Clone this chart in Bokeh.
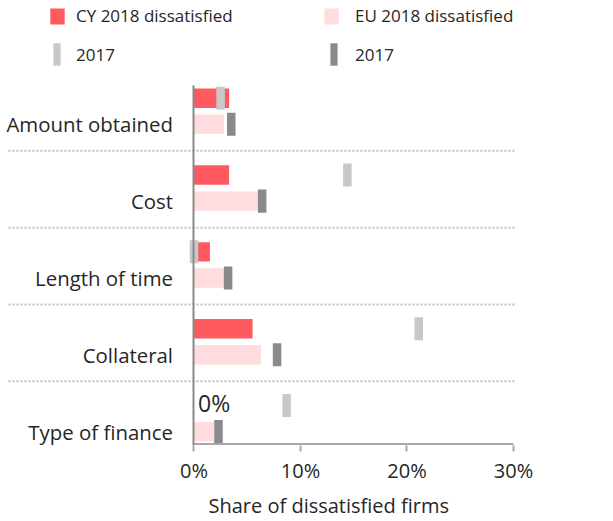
import numpy as np
from bokeh.plotting import figure
from bokeh.models import (Range1d, FixedTicker, PrintfTickFormatter, Legend,
                          LegendItem, Title)
from bokeh.core.properties import value
from bokeh.embed import file_html
from bokeh.resources import INLINE

# ---- data ----
categories = ["Amount obtained", "Cost", "Length of time", "Collateral", "Type of finance"]
cy_2018 = [3.3, 3.3, 1.5, 5.5, 0.0]
cy_2017 = [2.5, 14.4, 0.0, 21.1, 8.7]
eu_2018 = [2.8, 6.0, 2.8, 6.3, 1.9]
eu_2017 = [3.5, 6.4, 3.2, 7.8, 2.3]
x_ticks = [0, 10, 20, 30]

# ---- styling ----
RED = "#ff5a5f"
PINK = "#ffdcdd"
LIGHT = "#c8c8c8"
DARK = "#898a8d"
TEXT = "#262626"
FONT = "Open Sans"

X0, X1 = -18.169, 39.39
Y_BOTTOM, Y_TOP = 4.3506, -1.4416

pos = np.arange(len(categories), dtype=float)
cy_y = pos - 0.17
eu_y = pos + 0.17
sep_y = pos[:-1] + 0.515

p = figure(width=613, height=521,
           x_range=Range1d(X0, X1), y_range=Range1d(Y_BOTTOM, Y_TOP),
           output_backend="svg", toolbar_location=None,
           min_border_left=0, min_border_right=0, min_border_top=0, min_border_bottom=75)
p.outline_line_color = None
p.xgrid.visible = False
p.ygrid.visible = False
p.background_fill_color = "white"

# separators (dotted)
p.segment(x0=-17.42, x1=30.28, y0=sep_y, y1=sep_y, line_color="#bdbdbd",
          line_width=2, line_dash="2 2")

# bars
r_cy = p.hbar(y=cy_y, left=0, right=cy_2018, height=0.253, fill_color=RED, line_color=None)
r_eu = p.hbar(y=eu_y, left=0, right=eu_2018, height=0.253, fill_color=PINK, line_color=None)
# 2017 markers
r_cy17 = p.rect(x=cy_2017, y=cy_y, width=0.8, height=0.3, fill_color=LIGHT, line_color=None)
r_eu17 = p.rect(x=eu_2017, y=eu_y, width=0.8, height=0.3, fill_color=DARK, line_color=None)

# zero labels
zero_idx = [i for i, v in enumerate(cy_2018) if v == 0]
p.text(x=[cy_2018[i] for i in zero_idx], y=[cy_y[i] for i in zero_idx],
       text=["0%"] * len(zero_idx), x_offset=4, y_offset=-3, text_align="left",
       text_baseline="middle", text_font=value(FONT), text_font_size="23px", text_color=TEXT)

# x axis baseline
p.segment(x0=[x_ticks[0]], x1=[x_ticks[-1]], y0=[4.331], y1=[4.331], line_color="#a9a9a9", line_width=2)

# y axis at x=0
ya = p.yaxis[0]
ya.fixed_location = 0
ya.bounds = (-0.34, Y_BOTTOM)
ya.ticker = FixedTicker(ticks=list(eu_y))
ya.major_label_overrides = {float(y): c for y, c in zip(eu_y, categories)}
ya.major_tick_line_color = None
ya.minor_tick_line_color = None
ya.major_tick_out = 0
ya.major_tick_in = 0
ya.axis_line_color = "#8a8a8a"
ya.axis_line_width = 2
ya.major_label_standoff = 21
ya.major_label_text_font = FONT
ya.major_label_text_font_size = "20.4px"
ya.major_label_text_color = TEXT

# x axis
xa = p.xaxis[0]
xa.bounds = (0, 30)
xa.ticker = FixedTicker(ticks=x_ticks)
xa.formatter = PrintfTickFormatter(format="%d%%")
xa.axis_line_color = None
xa.major_tick_line_color = "#a9a9a9"
xa.major_tick_line_width = 2
xa.major_tick_out = 6
xa.major_tick_in = 0
xa.minor_tick_line_color = None
xa.major_label_standoff = 5
xa.major_label_text_font = FONT
xa.major_label_text_font_size = "20px"
xa.major_label_text_color = TEXT

# x axis title, placed under the axis
p.add_layout(Title(text="Share of dissatisfied firms", align="left", offset=208,
                   text_font=FONT, text_font_size="20px", text_font_style="normal",
                   text_color=TEXT, standoff=6), "below")


def add_legend(label, renderer, x, y, gw, gh, standoff):
    lg = Legend(items=[LegendItem(label=label, renderers=[renderer])],
                location=(x, y), orientation="horizontal",
                glyph_width=gw, glyph_height=gh, label_height=gh, label_standoff=standoff,
                padding=0, margin=0, spacing=0, border_line_color=None,
                background_fill_alpha=0, label_text_font=FONT,
                label_text_font_size="17px", label_text_color=TEXT)
    p.add_layout(lg)


add_legend("CY 2018 dissatisfied", r_cy, 48, 418, 18, 20, 10)
add_legend("EU 2018 dissatisfied", r_eu, 322, 418, 18, 20, 15)
add_legend("2017", r_cy17, 52, 377, 9, 28, 15)
add_legend("2017", r_eu17, 329, 377, 9, 28, 17)

open("out.html", "w").write(file_html(p, INLINE))
